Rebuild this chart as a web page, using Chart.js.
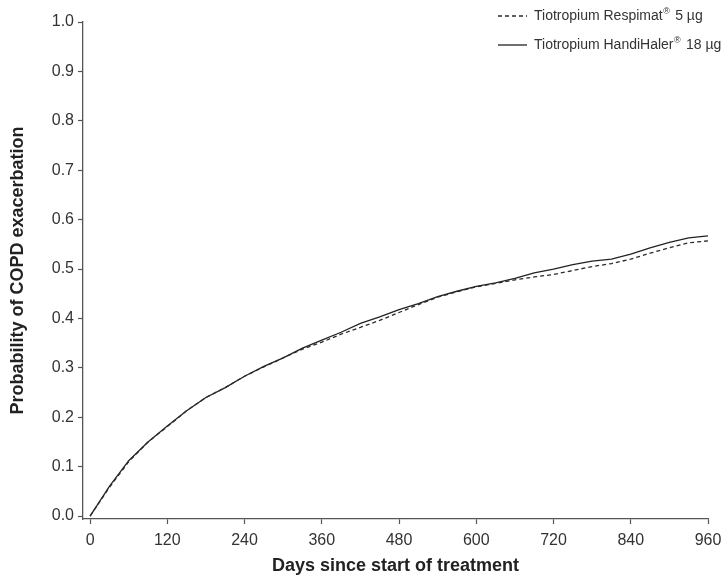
<!DOCTYPE html>
<html>
<head>
<meta charset="utf-8">
<script src="https://cdn.jsdelivr.net/npm/chart.js@4.4.1/dist/chart.umd.min.js"></script>
<style>
  html, body { margin: 0; padding: 0; background: #fff; }
</style>
</head>
<body>
<canvas id="chart" width="723" height="575"></canvas>
<script>
// Data (cumulative probability of a COPD exacerbation)
const days = [0, 30, 60, 90, 120, 150, 180, 210, 240, 270, 300, 330, 360, 390, 420, 450,
              480, 510, 540, 570, 600, 630, 660, 690, 720, 750, 780, 810, 840, 870, 900, 930, 960];
const respimat = [0.000, 0.058, 0.110, 0.150, 0.181, 0.213, 0.240, 0.260, 0.283, 0.302, 0.320,
                  0.338, 0.352, 0.368, 0.382, 0.396, 0.412, 0.428, 0.443, 0.454, 0.464, 0.471,
                  0.478, 0.484, 0.489, 0.497, 0.505, 0.511, 0.520, 0.532, 0.543, 0.553, 0.557];
const handihaler = [0.000, 0.060, 0.112, 0.150, 0.182, 0.213, 0.240, 0.260, 0.283, 0.303, 0.320,
                    0.340, 0.356, 0.372, 0.390, 0.403, 0.418, 0.430, 0.444, 0.455, 0.465, 0.472,
                    0.481, 0.492, 0.500, 0.509, 0.516, 0.520, 0.530, 0.543, 0.554, 0.563, 0.567];
const xTicks = [0, 120, 240, 360, 480, 600, 720, 840, 960];
const yTicks = [0, 0.1, 0.2, 0.3, 0.4, 0.5, 0.6, 0.7, 0.8, 0.9, 1.0];
const seriesLabels = ['Tiotropium Respimat® 5 µg', 'Tiotropium HandiHaler® 18 µg'];

const FONT = '"Liberation Sans", Arial, sans-serif';
const INK = '#333';

function toPoints(values) {
    return days.map((d, i) => ({ x: d, y: values[i] }));
}

// legend drawn as two stacked rows in the top right, with a small raised ®
const lineLegend = {
    id: 'lineLegend',
    afterDraw(chart) {
        const ctx = chart.ctx;
        ctx.save();
        ctx.textBaseline = 'middle';
        chart.data.datasets.forEach((ds, i) => {
            const y = 16 + i * 29;
            ctx.strokeStyle = ds.borderColor;
            ctx.lineWidth = ds.borderWidth;
            ctx.setLineDash(ds.borderDash || []);
            ctx.beginPath();
            ctx.moveTo(498, y);
            ctx.lineTo(527, y);
            ctx.stroke();
            ctx.setLineDash([]);

            const parts = ds.label.split('®');
            let x = 534;
            ctx.fillStyle = INK;
            ctx.font = '14px ' + FONT;
            ctx.fillText(parts[0], x, y);
            x += ctx.measureText(parts[0]).width;
            if (parts.length > 1) {
                ctx.font = '9px ' + FONT;
                ctx.fillText('®', x + 0.5, y - 4);
                x += ctx.measureText('®').width + 2;
                ctx.font = '14px ' + FONT;
                ctx.fillText(parts[1], x, y);
            }
        });
        ctx.restore();
    }
};

const ctx = document.getElementById('chart').getContext('2d');
new Chart(ctx, {
    type: 'line',
    data: {
        datasets: [{
            label: seriesLabels[0],
            data: toPoints(respimat),
            borderColor: '#2b2b2b',
            borderWidth: 1.3,
            borderDash: [4, 3],
            pointRadius: 0,
            tension: 0,
            fill: false
        }, {
            label: seriesLabels[1],
            data: toPoints(handihaler),
            borderColor: '#222',
            borderWidth: 1.3,
            pointRadius: 0,
            tension: 0,
            fill: false
        }]
    },
    options: {
        responsive: false,
        animation: false,
        devicePixelRatio: 1,
        layout: { padding: { top: 22, right: 15, left: 0, bottom: 0 } },
        plugins: {
            legend: { display: false },
            tooltip: { enabled: false }
        },
        scales: {
            x: {
                type: 'linear',
                min: -11,
                max: 960,
                afterBuildTicks: (scale) => { scale.ticks = xTicks.map(v => ({ value: v })); },
                afterFit: (scale) => {
                    scale.height = 56;
                    scale.paddingLeft = 0;
                    scale.paddingRight = 0;
                },
                grid: { drawOnChartArea: false, drawTicks: true, tickLength: 5, tickColor: '#555', tickWidth: 1.2 },
                border: { display: true, color: '#555', width: 1.3 },
                ticks: { color: INK, font: { size: 16, family: FONT }, padding: 7, maxRotation: 0 },
                title: {
                    display: true,
                    text: 'Days since start of treatment',
                    color: '#222',
                    font: { size: 18, weight: 'bold', family: FONT },
                    padding: { top: 0, bottom: -2 }
                }
            },
            y: {
                min: -0.006,
                max: 1.0,
                afterBuildTicks: (scale) => { scale.ticks = yTicks.map(v => ({ value: v })); },
                afterFit: (scale) => { scale.width = 83; },
                grid: { drawOnChartArea: false, drawTicks: true, tickLength: 5, tickColor: '#555', tickWidth: 1.2 },
                border: { display: true, color: '#555', width: 1.3 },
                ticks: {
                    color: INK,
                    font: { size: 16, family: FONT },
                    padding: 4,
                    callback: (v) => Number(v).toFixed(1)
                },
                title: {
                    display: true,
                    text: 'Probability of COPD exacerbation',
                    color: '#222',
                    font: { size: 18, weight: 'bold', family: FONT },
                    padding: { top: 7, bottom: 0 }
                }
            }
        }
    },
    plugins: [lineLegend]
});
</script>
</body>
</html>
